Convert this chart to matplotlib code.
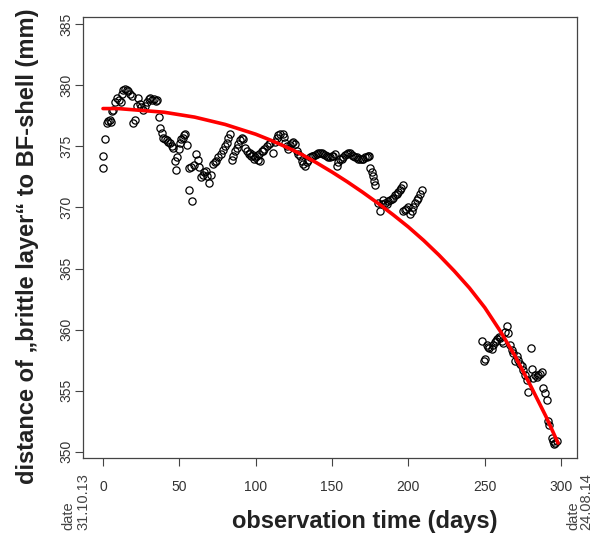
import matplotlib
matplotlib.use('Agg')
import matplotlib.pyplot as plt

plt.rcParams['font.family'] = ['Liberation Sans', 'DejaVu Sans']

# observed distances (days since 31.10.13, mm)
obs_day = [0.0, 0.3, 1.3, 2.4, 3.4, 4.4, 5.3, 5.8, 6.8, 8.0, 9.0, 10.4, 11.5, 12.3, 13.4,
           14.4, 15.5, 16.6, 17.7, 18.8, 19.9, 21.0, 22.0, 23.1, 24.1, 25.2, 26.2, 27.4,
           28.6, 29.8, 31.0, 32.2, 33.4, 34.5, 35.6, 36.9, 37.4, 38.4, 39.5, 40.6, 41.7,
           42.8, 43.9, 45.0, 46.0, 47.2, 47.8, 48.7, 49.6, 50.4, 51.3, 52.2, 53.1, 53.7,
           54.8, 56.0, 56.5, 57.3, 58.1, 59.5, 61.0, 61.9, 62.6, 64.0, 65.3, 66.1, 67.5,
           68.3, 69.6, 70.5, 72.2, 73.1, 74.0, 75.5, 77.1, 78.4, 79.9, 81.0, 82.1, 83.2,
           84.3, 85.3, 86.4, 87.6, 88.6, 89.7, 90.8, 91.9, 93.0, 94.5, 95.5, 96.3, 97.2,
           98.0, 99.0, 99.5, 100.6, 101.5, 102.4, 102.8, 103.9, 105.0, 105.4, 107.2, 108.9,
           109.4, 111.5, 112.5, 113.7, 114.8, 115.9, 117.7, 118.5, 119.2, 120.3, 121.4,
           122.5, 123.6, 124.6, 125.7, 126.8, 127.9, 129.0, 130.1, 131.2, 132.3, 133.4,
           134.5, 135.6, 136.6, 137.7, 138.8, 139.9, 141.0, 142.1, 143.2, 144.3, 145.4,
           146.5, 147.6, 148.7, 149.8, 150.8, 151.9, 153.0, 154.1, 155.2, 156.3, 157.4,
           158.5, 159.6, 160.7, 161.8, 162.9, 163.9, 165.0, 166.1, 167.2, 168.3, 169.4,
           170.5, 171.6, 172.7, 173.6, 174.4, 174.9, 176.0, 177.0, 177.5, 178.1, 180.3,
           181.4, 182.5, 183.6, 184.6, 185.7, 186.8, 188.0, 189.0, 190.1, 191.2, 192.3,
           193.4, 194.5, 195.3, 196.2, 196.7, 197.5, 198.4, 200.0, 201.0, 202.2, 203.2,
           204.3, 205.4, 206.5, 207.6, 208.7,
           248.0, 249.8, 250.3, 251.3, 252.2, 253.0, 254.5, 255.6, 256.7, 257.5, 258.2,
           259.5, 260.3, 261.1, 262.2, 263.3, 264.4, 265.4, 266.5, 267.6, 268.7, 269.8,
           270.9, 272.0, 273.1, 274.2, 275.3, 276.4, 277.5, 278.6, 280.1, 280.7, 281.8,
           282.9, 284.0, 285.1, 286.2, 287.2, 288.3, 289.4, 291.0, 291.6, 292.3, 293.8,
           294.9, 295.6, 296.0, 297.1]
obs_val = [373.2, 374.2, 375.6, 376.9, 377.1, 377.2, 377.0, 377.9, 378.0, 378.6, 379.0,
           378.8, 378.6, 379.3, 379.6, 379.7, 379.6, 379.5, 379.3, 379.1, 376.9, 377.2,
           378.3, 379.0, 378.5, 378.2, 378.0, 378.3, 378.6, 378.9, 379.0, 378.8, 378.9,
           378.7, 378.8, 377.4, 376.5, 376.1, 375.7, 375.6, 375.5, 375.4, 375.3, 375.0,
           374.9, 373.8, 373.1, 374.1, 374.8, 375.3, 375.6, 375.7, 375.9, 376.0, 375.1,
           373.2, 371.4, 373.3, 370.5, 373.5, 374.4, 373.9, 373.3, 372.5, 372.7, 372.9,
           373.0, 372.6, 372.0, 372.7, 373.6, 373.7, 373.8, 374.1, 374.4, 374.7, 375.0,
           375.3, 375.7, 376.0, 373.9, 374.2, 374.6, 374.9, 375.2, 375.5, 375.7, 375.6,
           374.9, 374.6, 374.4, 374.5, 374.2, 374.3, 374.0, 374.15, 374.2, 373.9, 374.4,
           373.8, 374.6, 374.6, 374.8, 375.0, 375.2, 375.3, 374.5, 375.4, 375.7, 375.9,
           376.0, 376.0, 375.8, 375.3, 375.0, 374.8, 375.1, 375.3, 375.4, 375.2, 374.6,
           374.4, 374.2, 373.8, 373.6, 373.4, 373.7, 373.9, 374.1, 374.2, 374.2, 374.3,
           374.4, 374.5, 374.5, 374.5, 374.4, 374.3, 374.2, 374.1, 374.1, 374.2, 374.2,
           374.4, 373.4, 373.7, 374.0, 374.0, 374.1, 374.3, 374.4, 374.5, 374.5, 374.3,
           374.2, 374.1, 374.1, 374.0, 374.0, 374.0, 374.0, 374.1, 374.1, 374.2, 374.2,
           373.2, 372.9, 372.6, 372.2, 371.8, 370.4, 369.7, 370.3, 370.6, 370.4, 370.3,
           370.5, 370.6, 370.7, 370.8, 371.0, 371.1, 371.3, 371.4, 371.6, 371.8, 369.7,
           369.8, 369.9, 370.0, 369.5, 369.7, 370.0, 370.4, 370.6, 370.8, 371.1, 371.4,
           359.1, 357.4, 357.6, 358.7, 358.6, 358.5, 358.4, 358.7, 359.0, 359.1, 359.2,
           359.4, 359.3, 359.1, 358.9, 359.8, 360.3, 359.7, 358.7, 358.3, 358.1, 357.4,
           357.8, 357.5, 357.2, 357.0, 356.7, 356.3, 355.9, 354.9, 358.5, 356.8, 356.0,
           356.3, 356.1, 356.3, 356.4, 356.5, 355.2, 354.8, 354.2, 352.5, 352.2, 351.1,
           350.85, 350.6, 350.7, 350.85]

# fitted trend (red curve)
fit_day = [0, 10, 20, 30, 40, 50, 60, 70, 80, 90, 100, 110, 120, 130, 140, 150, 160,
           170, 180, 190, 200, 210, 220, 230, 240, 250, 260, 270, 280, 290, 298]
fit_val = [378.1, 378.1, 378.0, 377.9, 377.8, 377.6, 377.4, 377.1, 376.8, 376.4, 376.0,
           375.5, 374.95, 374.35, 373.65, 372.9, 372.1, 371.25, 370.35, 369.4, 368.4,
           367.3, 366.1, 364.8, 363.4, 361.8, 359.9, 357.8, 355.4, 352.9, 350.7]

x_ticks = [0, 50, 100, 150, 200, 250, 300]
y_ticks = [350, 355, 360, 365, 370, 375, 380, 385]

W, H = 595, 534
fig = plt.figure(figsize=(W / 100, H / 100), dpi=100)
ax = fig.add_axes([83 / W, 76 / H, 494 / W, 441 / H])

ax.plot(obs_day, obs_val, linestyle='none', marker='o', markersize=5.2,
        markerfacecolor='none', markeredgecolor='black', markeredgewidth=0.9)
ax.plot(fit_day, fit_val, color='red', linewidth=2.6, solid_capstyle='round')

ax.set_xlim(-13.1, 310.4)
ax.set_ylim(349.48, 385.6)
ax.set_xticks(x_ticks)
ax.set_yticks(y_ticks)
ax.tick_params(direction='out', length=6, width=0.8, color='#444444',
               labelcolor='#333333', labelsize=10)
ax.tick_params(axis='x', pad=10)
ax.tick_params(axis='y', pad=1, labelrotation=90)
for lab in ax.get_yticklabels():
    lab.set_verticalalignment('center')
for s in ax.spines.values():
    s.set_linewidth(0.9)
    s.set_color('#444444')

fig.text(365 / W, 6 / H, 'observation time (days)', ha='center', va='baseline',
         fontsize=17, fontweight='bold', color='#222222')
fig.text(34 / W, 1 - 246 / H, 'distance of \u201ebrittle layer\u201c to BF-shell (mm)',
         rotation=90, rotation_mode='anchor', ha='center', va='baseline',
         fontsize=17, fontweight='bold', color='#222222')

# start / end dates
fig.text(68 / W, 4 / H, 'date', rotation=90, ha='center', va='bottom',
         fontsize=10.5, color='#444444')
fig.text(83 / W, 4 / H, '31.10.13', rotation=90, ha='center', va='bottom',
         fontsize=10.5, color='#444444')
fig.text(573 / W, 4 / H, 'date', rotation=90, ha='center', va='bottom',
         fontsize=10.5, color='#444444')
fig.text(586 / W, 4 / H, '24.08.14', rotation=90, ha='center', va='bottom',
         fontsize=10.5, color='#444444')

fig.savefig('out.png', dpi=100)
